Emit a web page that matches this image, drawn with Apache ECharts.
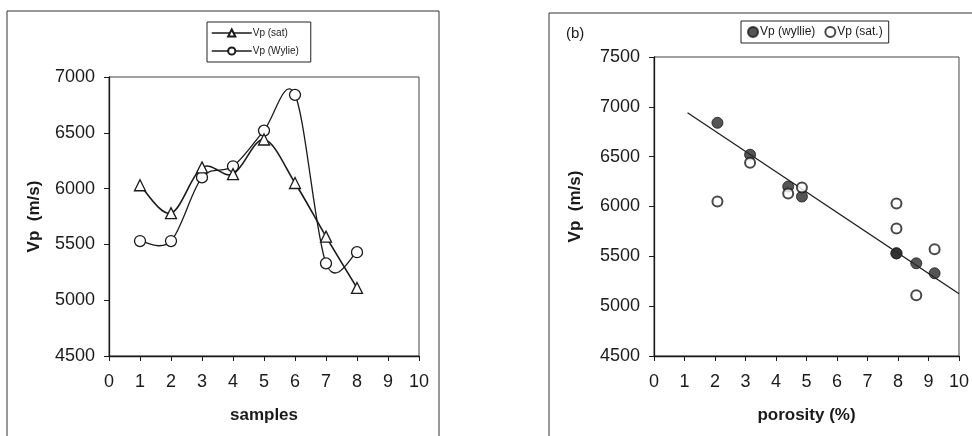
<!DOCTYPE html>
<html><head><meta charset="utf-8">
<script src="https://cdn.jsdelivr.net/npm/echarts@6/dist/echarts.min.js"></script>
<style>html,body{margin:0;padding:0;background:#fff}#c{width:972px;height:436px}</style>
</head><body><div id="c"></div>
<script>
// Panel (a): Vp vs sample number
const samples = [1, 2, 3, 4, 5, 6, 7, 8];
const vpSat = [6030, 5780, 6190, 6130, 6440, 6050, 5570, 5110];
const vpWylie = [5530, 5530, 6100, 6200, 6520, 6840, 5330, 5430];
// Panel (b): Vp vs porosity (same samples)
const porosity = [7.95, 7.95, 4.85, 4.4, 3.15, 2.08, 9.2, 8.6];
const trendX = [1.1, 10];
const trendY = [6940, 5125];
const xTicksA = [0, 10, 1];
const yTicksA = [4500, 7000, 500];
const xTicksB = [0, 10, 1];
const yTicksB = [4500, 7500, 500];

const FONT = 'Liberation Sans, Arial, sans-serif';
const INK = '#1a1a1a';

const chart = echarts.init(document.getElementById('c'), null, {renderer: 'canvas'});

function xAxisCfg(grid, ticks, name) {
  return {
    type: 'value', gridIndex: grid, min: ticks[0], max: ticks[1], interval: ticks[2],
    name: name, nameLocation: 'middle', nameGap: 51,
    nameTextStyle: {fontFamily: FONT, fontSize: 17, fontWeight: 'bold', color: INK},
    axisLine: {show: true, onZero: false, lineStyle: {color: INK, width: 1.3}},
    axisTick: {show: true, inside: false, length: 5, lineStyle: {color: INK}},
    axisLabel: {fontFamily: FONT, fontSize: 18, color: INK, margin: 17, formatter: v => String(v)},
    splitLine: {show: false}
  };
}
function yAxisCfg(grid, ticks, gap) {
  return {
    type: 'value', gridIndex: grid, min: ticks[0], max: ticks[1], interval: ticks[2],
    name: 'Vp  (m/s)', nameLocation: 'middle', nameGap: gap,
    nameTextStyle: {fontFamily: FONT, fontSize: 17, fontWeight: 'bold', color: INK},
    axisLine: {show: true, onZero: false, lineStyle: {color: INK, width: 1.3}},
    axisTick: {show: true, inside: false, length: 5, lineStyle: {color: INK}},
    axisLabel: {fontFamily: FONT, fontSize: 18, color: INK, margin: 14, formatter: v => String(v)},
    splitLine: {show: false}
  };
}

const satPairs = samples.map((s, i) => [s, vpSat[i]]);
const wyPairs = samples.map((s, i) => [s, vpWylie[i]]);
const wyPor = porosity.map((p, i) => [p, vpWylie[i]]);
const satPor = porosity.map((p, i) => [p, vpSat[i]]);
const trend = trendX.map((x, i) => [x, trendY[i]]);

// Excel-style smoothed segment (Catmull-Rom as cubic Bezier), through the axis scale
function smoothRenderer(pairs, width) {
  return function (params, api) {
    const i = params.dataIndex;
    if (i >= pairs.length - 1) return null;
    const P = pairs.map(p => api.coord(p));
    const p0 = P[Math.max(i - 1, 0)], p1 = P[i], p2 = P[i + 1], p3 = P[Math.min(i + 2, P.length - 1)];
    const k = 1 / 6;
    return {
      type: 'bezierCurve',
      shape: {
        x1: p1[0], y1: p1[1], x2: p2[0], y2: p2[1],
        cpx1: p1[0] + (p2[0] - p0[0]) * k, cpy1: p1[1] + (p2[1] - p0[1]) * k,
        cpx2: p2[0] - (p3[0] - p1[0]) * k, cpy2: p2[1] - (p3[1] - p1[1]) * k
      },
      style: {fill: null, stroke: INK, lineWidth: width}
    };
  };
}

chart.setOption({
  backgroundColor: '#ffffff',
  animation: false,
  grid: [
    {left: 109, top: 77, width: 310, height: 279, show: true, borderColor: '#444', borderWidth: 1, backgroundColor: 'transparent'},
    {left: 654, top: 57, width: 308, height: 299, show: true, borderColor: '#444', borderWidth: 1, backgroundColor: 'transparent'}
  ],
  xAxis: [xAxisCfg(0, xTicksA, 'samples'), xAxisCfg(1, xTicksB, 'porosity (%)')],
  yAxis: [yAxisCfg(0, yTicksA, 66), yAxisCfg(1, yTicksB, 70)],
  legend: [
    {
      data: ['Vp (sat)', 'Vp (Wylie)'], orient: 'vertical', left: 207, top: 22,
      itemWidth: 40, itemHeight: 9, itemGap: 8, padding: [6, 12, 6, 4],
      borderColor: '#222', borderWidth: 1, backgroundColor: '#fff',
      lineStyle: {color: INK, width: 1.5, opacity: 1},
      textStyle: {fontFamily: FONT, fontSize: 10, color: INK, padding: [0, 0, 0, -4]}
    },
    {
      data: ['Vp (wyllie)', 'Vp (sat.)'], orient: 'horizontal', left: 741, top: 21,
      itemWidth: 10, itemHeight: 10, itemGap: 9, padding: [5, 6, 5, 6],
      borderColor: '#222', borderWidth: 1, backgroundColor: '#fff',
      textStyle: {fontFamily: FONT, fontSize: 12, color: INK, padding: [0, 0, 0, -3]}
    }
  ],
  graphic: [
    {type: 'rect', shape: {x: 7, y: 11, width: 432, height: 440}, style: {fill: 'none', stroke: '#333', lineWidth: 1}, silent: true},
    {type: 'rect', shape: {x: 549, y: 13, width: 440, height: 440}, style: {fill: 'none', stroke: '#333', lineWidth: 1}, silent: true},
    {type: 'text', left: 566, top: 26, style: {text: '(b)', font: '15px ' + FONT, fill: INK}, silent: true}
  ],
  series: [
    {
      name: 'satCurve', type: 'custom', xAxisIndex: 0, yAxisIndex: 0, data: satPairs,
      renderItem: smoothRenderer(satPairs, 1.6), z: 1, silent: true
    },
    {
      name: 'wyCurve', type: 'custom', xAxisIndex: 0, yAxisIndex: 0, data: wyPairs,
      renderItem: smoothRenderer(wyPairs, 1.3), z: 1, silent: true
    },
    {
      name: 'Vp (sat)', type: 'line', xAxisIndex: 0, yAxisIndex: 0, data: satPairs,
      symbol: 'triangle', symbolSize: 11, showAllSymbol: true,
      lineStyle: {color: INK, width: 1.5, opacity: 0}, itemStyle: {color: '#fff', borderColor: INK, borderWidth: 1.3}, z: 3
    },
    {
      name: 'Vp (Wylie)', type: 'line', xAxisIndex: 0, yAxisIndex: 0, data: wyPairs,
      symbol: 'circle', symbolSize: 11, showAllSymbol: true,
      lineStyle: {color: INK, width: 1.5, opacity: 0}, itemStyle: {color: '#fff', borderColor: INK, borderWidth: 1.3}, z: 2
    },
    {
      name: 'trend', type: 'line', xAxisIndex: 1, yAxisIndex: 1, data: trend,
      symbol: 'none', lineStyle: {color: INK, width: 1.3}, z: 1
    },
    {
      name: 'Vp (wyllie)', type: 'scatter', xAxisIndex: 1, yAxisIndex: 1, data: wyPor,
      symbol: 'circle', symbolSize: 11, itemStyle: {color: '#2a2a2a', borderColor: '#1a1a1a', borderWidth: 1}, z: 2
    },
    {
      name: 'Vp (sat.)', type: 'scatter', xAxisIndex: 1, yAxisIndex: 1, data: satPor,
      symbol: 'circle', symbolSize: 10, itemStyle: {color: '#fff', borderColor: '#1a1a1a', borderWidth: 2}, z: 3
    }
  ]
});
</script></body></html>
